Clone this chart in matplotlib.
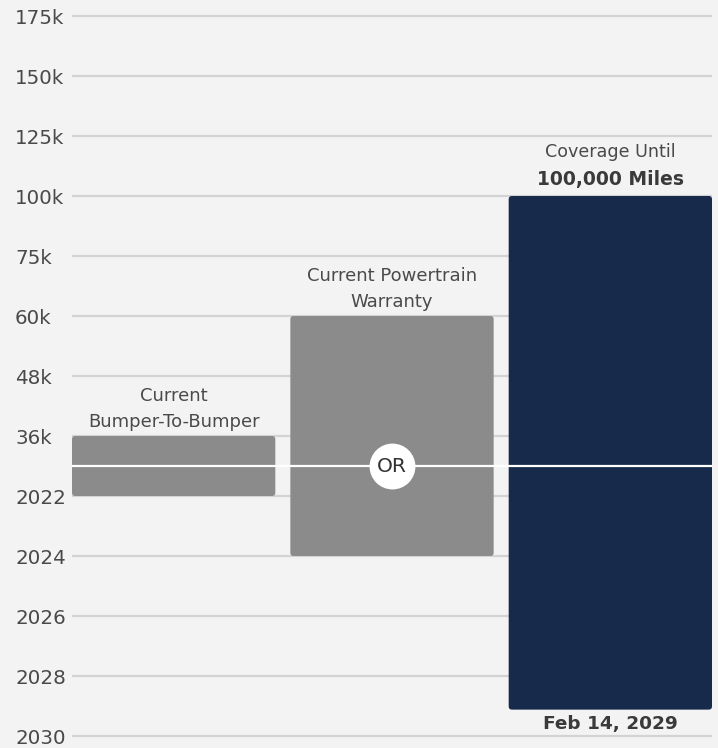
import numpy as np
import matplotlib.pyplot as plt
from matplotlib.patches import FancyBboxPatch

# warranty coverage: mileage limit (upper half) and end date (lower half)
mile_ticks = [36000, 48000, 60000, 75000, 100000, 125000, 150000, 175000]
mile_labels = ["36k", "48k", "60k", "75k", "100k", "125k", "150k", "175k"]
year_ticks = [2022, 2024, 2026, 2028, 2030]
year_labels = ["2022", "2024", "2026", "2028", "2030"]

plan_names = [["Current", "Bumper-To-Bumper"],
              ["Current Powertrain", "Warranty"],
              ["Coverage Until", "100,000 Miles"]]
plan_miles = [36000, 60000, 100000]
plan_end_year = [2022.0, 2024.0, 2029 + 44 / 365]   # last one: Feb 14, 2029
plan_colors = ["#8b8b8b", "#8b8b8b", "#172a4b"]

BG = "#f3f3f3"
TXT = "#4a4a4a"
plt.rcParams["font.family"] = ["DejaVu Sans"]


# both halves share one slot axis: 2030 at 0 ... 2022 at 4, 36k at 5 ... 175k at 12
def mile_pos(m):
    return np.interp(m, mile_ticks, np.arange(5, 13))


def year_pos(y):
    return np.interp(y, year_ticks, [4, 3, 2, 1, 0])


fig = plt.figure(figsize=(7.18, 7.48), dpi=100, facecolor=BG)
ax = fig.add_axes([72 / 718, 0, 640 / 718, 1])
ax.set_facecolor(BG)

tick_pos = list(year_pos(np.array(year_ticks))) + list(mile_pos(np.array(mile_ticks)))
tick_lab = year_labels + mile_labels
ax.set_yticks(tick_pos)
ax.set_yticklabels(tick_lab)
ax.tick_params(axis="y", length=0, pad=41, labelsize=14.3, labelcolor=TXT)
for lab in ax.get_yticklabels():
    lab.set_ha("left")
ax.set_xticks([])
for s in ax.spines.values():
    s.set_visible(False)

for p in tick_pos:
    ax.axhline(p, color="#d3d3d3", lw=1.6, zorder=0)

width = 203 / 218
aspect = 218 / 60
for i, (m, y, c) in enumerate(zip(plan_miles, plan_end_year, plan_colors)):
    top = mile_pos(m)
    bottom = year_pos(y)
    box = FancyBboxPatch((i - width / 2, bottom), width, top - bottom,
                         boxstyle="round,pad=0,rounding_size=0.015",
                         mutation_aspect=aspect, fc=c, ec="none", zorder=2)
    ax.add_patch(box)

    bold = i == 2
    ax.annotate(plan_names[i][1], (i, top), xytext=(0, 16 if bold else 14),
                textcoords="offset pixels", ha="center", va="center",
                fontsize=13.5 if bold else 13, color="#3a3a3a" if bold else TXT,
                fontweight="bold" if bold else "normal")
    ax.annotate(plan_names[i][0], (i, top), xytext=(0, 44 if bold else 40),
                textcoords="offset pixels", ha="center", va="center",
                fontsize=13 if not bold else 12.6, color=TXT)

ax.annotate("Feb 14, 2029", (2, year_pos(plan_end_year[2])), xytext=(0, -14),
            textcoords="offset pixels", ha="center", va="center",
            fontsize=13.3, fontweight="bold", color="#3a3a3a")

# divider between the mileage and the time halves
mid = 4.5
ax.axhline(mid, color="white", lw=1.6, zorder=3)
ax.scatter([1], [mid], s=1090, color="white", zorder=4, linewidths=0)
ax.text(1, mid, "OR", ha="center", va="center", fontsize=14.5, color="#333333", zorder=5)

ax.set_xlim(-width / 2, 2 + width / 2)
ax.set_ylim(-0.2, 736 / 60)

fig.savefig("out.png", dpi=100, facecolor=BG)
